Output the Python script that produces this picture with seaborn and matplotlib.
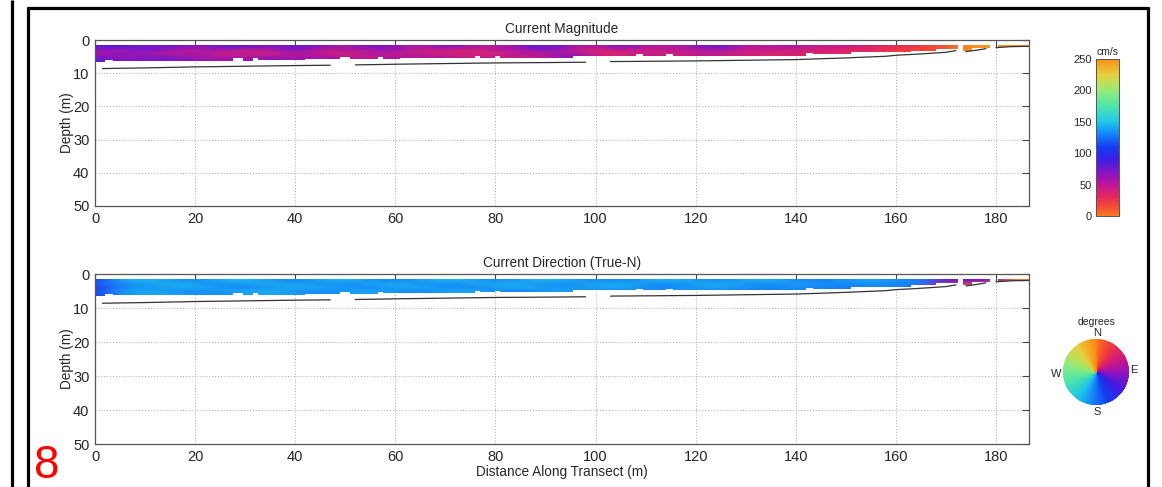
import numpy as np
import pandas as pd
import matplotlib
matplotlib.use("Agg")
import matplotlib.pyplot as plt
import seaborn as sns
from matplotlib.colors import LinearSegmentedColormap, Normalize
from matplotlib.path import Path
from matplotlib.patches import PathPatch
from matplotlib.lines import Line2D
import matplotlib.cm as cm

# ---------------------------------------------------------------- data
# ensemble stations along the transect (m) and depth-bin centres (m)
station_dist = [0, 5, 10, 15, 20, 25, 30, 35, 40, 45, 50, 55, 60, 65, 70, 75, 80, 85, 90,
                95, 100, 105, 110, 115, 120, 125, 130, 135, 140, 145, 150, 155, 160, 165,
                170, 175, 180, 185]
bin_depth = [2, 3, 4, 5, 6]

# current magnitude (cm/s), one row per depth bin
mag_bin2 = [80, 84, 70, 82, 60, 78, 84, 62, 80, 72, 50, 78, 66, 48, 76, 58, 44, 70, 84, 62,
            48, 74, 56, 44, 68, 80, 52, 46, 62, 40, 50, 36, 30, 22, 14, 246, 248, 246]
mag_bin3 = [70, 52, 80, 60, 44, 66, 36, 56, 74, 40, 62, 46, 70, 34, 52, 28, 60, 46, 74, 50,
            30, 56, 34, 60, 40, 66, 38, 54, 32, 46, 28, 34, 24, 17, 12, 244, 246, 245]
mag_bin4 = [48, 74, 58, 40, 70, 34, 52, 30, 60, 48, 30, 64, 40, 56, 30, 48, 28, 62, 42, 66,
            40, 28, 50, 30, 56, 36, 46, 28, 44, 30, 38, 24, 20, 14, 10, 242, 245, 245]
mag_bin5 = [76, 56, 66, 80, 46, 60, 44, 72, 46, 62, 52, 40, 58, 46, 62, 36, 54, 40, 56, 74,
            46, 38, 60, 42, 48, 58, 34, 48, 30, 40, 26, 30, 20, 15, 12, 242, 245, 245]
mag_bin6 = [84, 70, 78, 62, 74, 56, 68, 60, 70, 54, 64, 50, 62, 54, 48, 52, 46, 50, 54, 60,
            50, 44, 40, 46, 48, 52, 44, 40, 36, 34, 30, 28, 24, 20, 16, 242, 245, 245]

# current direction (degrees from true north), one row per depth bin
dir_bin2 = [150, 202, 208, 198, 190, 204, 210, 196, 188, 202, 208, 194, 188, 200, 208, 202,
            190, 198, 210, 200, 192, 188, 200, 208, 198, 190, 202, 206, 192, 186, 196, 202,
            192, 188, 110, 110, 90, 355]
dir_bin3 = [170, 190, 198, 208, 200, 188, 198, 206, 202, 192, 188, 202, 208, 194, 188, 198,
            208, 202, 190, 194, 204, 208, 194, 188, 200, 208, 194, 188, 200, 192, 188, 194,
            190, 184, 70, 20, 5, 358]
dir_bin4 = [140, 188, 194, 202, 208, 198, 188, 194, 204, 208, 196, 188, 198, 206, 194, 188,
            196, 206, 200, 190, 198, 204, 192, 188, 196, 202, 192, 188, 194, 188, 186, 192,
            186, 180, 40, 10, 0, 358]
dir_bin5 = [160, 198, 206, 194, 188, 196, 204, 208, 194, 188, 196, 204, 194, 190, 200, 206,
            194, 188, 196, 204, 194, 190, 188, 198, 194, 190, 188, 186, 192, 184, 184, 182,
            180, 174, 30, 5, 0, 358]
dir_bin6 = [150, 194, 200, 204, 194, 190, 200, 204, 198, 190, 196, 202, 192, 188, 196, 200,
            192, 188, 194, 198, 192, 190, 188, 192, 188, 186, 184, 184, 186, 182, 180, 178,
            176, 172, 30, 5, 0, 358]

# depth of the first measured bin (m)
first_bin_top = 1.5

# deepest valid bin along the transect: segment start/end distances and floor depth
band_edges = [0, 2, 3.5, 8, 27.5, 29.5, 31.5, 32.5, 42, 49, 51, 56.5, 57.5, 61, 76, 77,
              80, 81, 95.5, 108, 109.5, 114, 115.5, 123, 142, 143.5, 151, 163, 168, 172.4]
band_floor = [6.6, 5.9, 6.3, 6.2, 5.5, 6.2, 5.5, 6.1, 5.8, 5.2, 5.8, 5.2, 5.7, 5.5, 4.9,
              5.4, 4.9, 5.3, 4.8, 4.3, 4.8, 4.3, 4.7, 4.8, 4.0, 4.3, 3.7, 3.3, 2.7]
bank_a_edges = [173.4, 175.2, 178.8]
bank_a_floor = [3.3, 2.3]
bank_b_edges = [180.5, 186.6]
bank_b_floor = [2.1]

# bottom-track depth (m); segments separated where tracking dropped out
bt_dist = [1.5, 10, 20, 30, 40, 47, 52, 60, 70, 80, 90, 98, 103, 112, 120, 130, 140,
           150, 158, 160, 165, 170, 172, 174, 176, 178, 180, 183, 186.5]
bt_depth = [8.6, 8.4, 8.1, 7.9, 7.7, 7.6, 7.5, 7.3, 7.1, 6.9, 6.8, 6.7, 6.5, 6.4, 6.3,
            6.1, 5.9, 5.4, 4.9, 4.6, 4.2, 3.7, 3.2, 3.5, 3.1, 2.6, 2.3, 2.0, 1.9]
bt_segment = [0, 0, 0, 0, 0, 0, 1, 1, 1, 1, 1, 1, 2, 2, 2, 2, 2,
              2, 2, 2, 2, 2, 2, 3, 3, 3, 4, 4, 4]

x_ticks = [0, 20, 40, 60, 80, 100, 120, 140, 160, 180]
y_ticks = [0, 10, 20, 30, 40, 50]
cbar_ticks = [0, 50, 100, 150, 200, 250]

# ---------------------------------------------------------------- style
sns.set_style("white")
plt.rcParams["font.family"] = ["Liberation Sans", "DejaVu Sans"]

wheel_colors = [
    (0.00, (1.00, 0.47, 0.12)),
    (0.06, (0.96, 0.29, 0.20)),
    (0.12, (0.90, 0.16, 0.36)),
    (0.20, (0.75, 0.08, 0.59)),
    (0.28, (0.51, 0.08, 0.78)),
    (0.36, (0.24, 0.12, 0.90)),
    (0.44, (0.08, 0.24, 0.94)),
    (0.52, (0.08, 0.51, 0.98)),
    (0.60, (0.12, 0.78, 0.92)),
    (0.70, (0.31, 0.90, 0.67)),
    (0.80, (0.59, 0.92, 0.47)),
    (0.90, (0.90, 0.82, 0.24)),
    (1.00, (1.00, 0.55, 0.08)),
]
cyc = LinearSegmentedColormap.from_list("adcp_cyclic", wheel_colors, N=512)

W, H = 1162, 487
fig = plt.figure(figsize=(W / 100, H / 100), dpi=100)
fig.patch.set_facecolor("white")


def fx(px):
    return px / W


def fy(py):
    return 1 - py / H


def step_outline(edges, floors, top):
    verts = [(edges[0], top), (edges[-1], top)]
    for i in range(len(floors) - 1, -1, -1):
        verts.append((edges[i + 1], floors[i]))
        verts.append((edges[i], floors[i]))
    verts.append((edges[0], top))
    codes = [Path.MOVETO] + [Path.LINETO] * (len(verts) - 2) + [Path.CLOSEPOLY]
    return verts, codes


def valid_region():
    verts, codes = [], []
    for e, f in [(band_edges, band_floor), (bank_a_edges, bank_a_floor),
                 (bank_b_edges, bank_b_floor)]:
        v, c = step_outline(e, f, first_bin_top)
        verts += v
        codes += c
    return Path(verts, codes)


bt_frame = pd.DataFrame({"dist": bt_dist, "depth": bt_depth, "seg": bt_segment})


def draw_panel(ax, rows, vmin, vmax, title):
    field = np.array(rows, dtype=float)
    half_dx = (station_dist[1] - station_dist[0]) / 2
    half_dz = (bin_depth[1] - bin_depth[0]) / 2
    im = ax.imshow(field, cmap=cyc, vmin=vmin, vmax=vmax, aspect="auto",
                   origin="upper", interpolation="bicubic", interpolation_stage="rgba",
                   extent=[station_dist[0] - half_dx, station_dist[-1] + half_dx,
                           bin_depth[-1] + half_dz, bin_depth[0] - half_dz],
                   zorder=1)
    clip = PathPatch(valid_region(), transform=ax.transData, facecolor="none",
                     edgecolor="none")
    im.set_clip_path(clip)

    sns.lineplot(data=bt_frame, x="dist", y="depth", units="seg", estimator=None,
                 sort=False, color="#333333", linewidth=0.9, ax=ax, legend=False,
                 zorder=2)

    ax.set_xlim(0, 186.6)
    ax.set_ylim(50, 0)
    ax.set_xticks(x_ticks)
    ax.set_yticks(y_ticks)
    ax.set_xlabel("")
    ax.set_ylabel("Depth (m)", fontsize=9.8)
    ax.yaxis.set_label_coords(-0.023, 0.5)
    ax.set_title(title, fontsize=9.8, pad=5)
    ax.grid(True, linestyle=(0, (1, 2)), color="#a8a8a8", linewidth=0.7)
    ax.set_axisbelow(True)
    ax.tick_params(direction="in", top=True, right=True, length=5, width=0.8,
                   color="#444444", labelsize=10.5, pad=4)
    for s in ax.spines.values():
        s.set_color("#555555")
        s.set_linewidth(0.9)
    return im


ax_mag = fig.add_axes([fx(95), fy(206), fx(1029) - fx(95), fy(40) - fy(206)])
ax_dir = fig.add_axes([fx(95), fy(444), fx(1029) - fx(95), fy(274) - fy(444)])

draw_panel(ax_mag, [mag_bin2, mag_bin3, mag_bin4, mag_bin5, mag_bin6], 0, 250,
           "Current Magnitude")
draw_panel(ax_dir, [dir_bin2, dir_bin3, dir_bin4, dir_bin5, dir_bin6], 0, 360,
           "Current Direction (True-N)")
ax_dir.set_xlabel("Distance Along Transect (m)", fontsize=9.8, labelpad=1)

# magnitude colour bar
cax = fig.add_axes([fx(1096), fy(216), fx(1119) - fx(1096), fy(59) - fy(216)])
sm = cm.ScalarMappable(norm=Normalize(0, 250), cmap=cyc)
cb = fig.colorbar(sm, cax=cax, ticks=cbar_ticks)
cax.yaxis.set_ticks_position("left")
cax.tick_params(length=0, labelsize=8, pad=3)
cb.outline.set_edgecolor("#555555")
cb.outline.set_linewidth(0.7)
cax.set_title("cm/s", fontsize=7.5, pad=3)

# direction colour wheel
wax = fig.add_axes([fx(1063), fy(405), fx(1129) - fx(1063), fy(339) - fy(405)],
                   projection="polar")
theta_deg = np.arange(0, 361, 1)
th, rr = np.meshgrid(np.deg2rad(theta_deg), [0, 1])
wax.pcolormesh(th, rr, np.vstack([theta_deg, theta_deg]), cmap=cyc, vmin=0, vmax=360,
               shading="gouraud")
wax.set_theta_zero_location("N")
wax.set_theta_direction(-1)
wax.set_ylim(0, 1)
wax.axis("off")
fig.text(fx(1097), fy(322), "degrees", fontsize=7.5, ha="center", va="center")
fig.text(fx(1097), fy(333), "N", fontsize=8, ha="center", va="center")
fig.text(fx(1134), fy(370), "E", fontsize=8, ha="center", va="center")
fig.text(fx(1097), fy(412), "S", fontsize=8, ha="center", va="center")
fig.text(fx(1056), fy(374), "W", fontsize=8, ha="center", va="center")

# frame lines
lk = dict(color="black", linewidth=2.3, solid_capstyle="butt")
fig.add_artist(Line2D([fx(12), fx(12)], [0, 1], **lk))
fig.add_artist(Line2D([fx(27.5), fx(27.5)], [0, fy(7)], **lk))
fig.add_artist(Line2D([fx(26.5), fx(1148.5)], [fy(8), fy(8)], **lk))
fig.add_artist(Line2D([fx(1147.5), fx(1147.5)], [0, fy(7)], **lk))

fig.text(fx(34), fy(478), "8", color="#ff0000", fontsize=33, ha="left", va="baseline")

fig.savefig("out.png", dpi=100, facecolor="white")
